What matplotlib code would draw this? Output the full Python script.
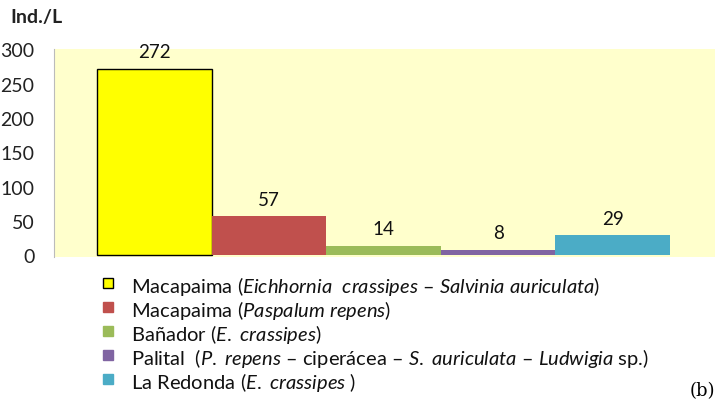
import matplotlib
matplotlib.use("Agg")
from matplotlib import pyplot as plt
from matplotlib.patches import Rectangle

# data
sites = [
    r"Macapaima ($\mathit{Eichhornia\ \ crassipes}$ – $\mathit{Salvinia\ auriculata}$)",
    r"Macapaima ($\mathit{Paspalum\ repens}$)",
    r"Bañador ($\mathit{E.\ crassipes}$)",
    r"Palital  ($\mathit{P.\ repens}$ – ciperácea – $\mathit{S.\ auriculata}$ – $\mathit{Ludwigia}$ sp.)",
    r"La Redonda ($\mathit{E.\ crassipes}$ )",
]
values = [272, 57, 14, 8, 29]
colors = ["#FFFF00", "#C0504D", "#9BBB59", "#8064A2", "#4BACC6"]
edges = ["black", "none", "none", "none", "none"]

plt.rcParams['font.family'] = ['Lato', 'DejaVu Sans']
plt.rcParams['mathtext.fontset'] = 'custom'
plt.rcParams['mathtext.rm'] = 'Lato'
plt.rcParams['mathtext.it'] = 'Lato:italic'

W, H = 720, 406
fig = plt.figure(figsize=(7.2, 4.06), dpi=100)
ax = fig.add_axes([54 / W, 1 - 258 / H, 661 / W, 208 / H])
ax.set_facecolor("#FFFFCC")

x = list(range(len(values)))
bars = ax.bar(x, values, width=1.0, color=colors, edgecolor=edges, linewidth=1)

for xi, v in zip(x, values):
    ax.annotate(str(v), (xi, v), xytext=(0, 6), textcoords="offset points",
                ha="center", va="bottom", fontsize=13.5, color="#111111")

ax.set_xlim(-0.876, 4.893)
ax.set_ylim(-2.5, 300.5)
ax.set_yticks([0, 50, 100, 150, 200, 250, 300])
ax.tick_params(axis="y", length=0, labelsize=14, pad=14, colors="#222222")
ax.set_xticks([])
for s in ["top", "right", "bottom"]:
    ax.spines[s].set_visible(False)
ax.spines["left"].set_color("#BBBBBB")

fig.text(10 / W, 1 - 17 / H, "Ind./L", fontsize=14, fontweight="bold",
         color="#222222", va="center")

# legend drawn by hand to get the tight row spacing
for i, (lab, c, e) in enumerate(zip(sites, colors, edges)):
    yc = 284 + i * 24
    fig.add_artist(Rectangle(((103) / W, 1 - (yc + 5) / H), 10 / W, 10 / H,
                             transform=fig.transFigure, facecolor=c,
                             edgecolor=("black" if e == "black" else c), linewidth=1))
    fig.text(131 / W, 1 - yc / H, lab, fontsize=14.5, va="center_baseline",
             color="#111111")

fig.text(690 / W, 1 - 391 / H, "(b)", fontsize=13, family="DejaVu Serif", va="center")

fig.savefig("out.png", dpi=100)
